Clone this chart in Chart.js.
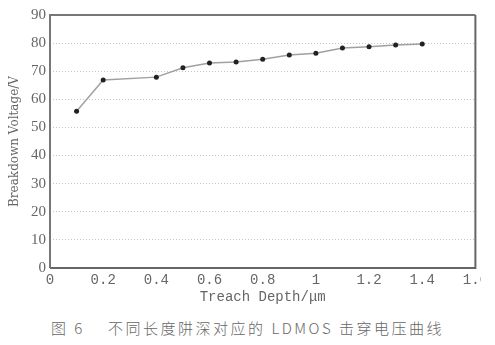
<!DOCTYPE html>
<html>
<head>
<meta charset="utf-8">
<script src="https://cdn.jsdelivr.net/npm/chart.js@4/dist/chart.umd.min.js"></script>
<style>
  html, body { margin: 0; padding: 0; background: #fff; }
  #wrap { position: relative; width: 495px; height: 345px; overflow: hidden; }
  #clip { position: absolute; left: 0; top: 0; width: 481px; height: 306px; overflow: hidden; }
  #chartBox { position: absolute; left: 0; top: 0; width: 492px; height: 306px; }
  #caption {
    position: absolute; left: 0; top: 317px; width: 495px; text-align: center;
    font-family: "Noto Sans CJK SC", serif; font-size: 15px; font-weight: 300; color: #666; letter-spacing: 2.5px;
  }
</style>
</head>
<body>
<div id="wrap">
  <div id="clip"><div id="chartBox"><canvas id="chart"></canvas></div></div>
  <div id="caption">图 6&nbsp;&nbsp;&nbsp;&nbsp;不同长度阱深对应的 LDMOS 击穿电压曲线</div>
</div>
<script>
// trench depth (um) and breakdown voltage (V)
const depths = [0.1, 0.2, 0.4, 0.5, 0.6, 0.7, 0.8, 0.9, 1.0, 1.1, 1.2, 1.3, 1.4];
const voltages = [55.8, 66.9, 67.9, 71.2, 72.9, 73.3, 74.3, 75.8, 76.4, 78.3, 78.7, 79.3, 79.7];
const xTicks = [0, 0.2, 0.4, 0.6, 0.8, 1, 1.2, 1.4, 1.6];
const yTicks = [0, 10, 20, 30, 40, 50, 60, 70, 80, 90];

// box around the plot area
const frame = {
    id: 'frame',
    afterDraw(chart) {
        const a = chart.chartArea;
        const ctx = chart.ctx;
        ctx.save();
        ctx.strokeStyle = '#777';
        ctx.lineWidth = 2;
        ctx.beginPath();
        ctx.moveTo(a.left, a.bottom);
        ctx.lineTo(a.left, a.top);
        ctx.lineTo(a.right, a.top);
        ctx.stroke();
        ctx.strokeStyle = '#666';
        ctx.beginPath();
        ctx.moveTo(a.right, a.top);
        ctx.lineTo(a.right, a.bottom);
        ctx.lineTo(a.left, a.bottom);
        ctx.stroke();
        ctx.restore();
    }
};

const ctx = document.getElementById('chart').getContext('2d');
new Chart(ctx, {
    type: 'scatter',
    data: {
        datasets: [{
            data: depths.map((d, i) => ({ x: d, y: voltages[i] })),
            showLine: true,
            borderColor: '#a0a0a0',
            borderWidth: 1.5,
            pointRadius: 2.5,
            pointBackgroundColor: '#222',
            pointBorderColor: '#222',
            pointBorderWidth: 0
        }]
    },
    options: {
        responsive: true,
        maintainAspectRatio: false,
        animation: false,
        layout: { padding: { top: 15, right: 0, bottom: 0, left: 8 } },
        plugins: { legend: { display: false }, tooltip: { enabled: false } },
        scales: {
            x: {
                type: 'linear',
                min: 0,
                max: 1.6,
                afterBuildTicks: s => { s.ticks = xTicks.map(v => ({ value: v })); },
                afterFit: s => { s.height = 38; },
                grid: { display: false, drawTicks: false },
                border: { display: false },
                ticks: {
                    color: '#666',
                    padding: 4,
                    maxRotation: 0,
                    font: { family: 'Liberation Mono', size: 14 },
                    callback: v => String(v)
                },
                title: {
                    display: true,
                    text: 'Treach Depth/\u03bcm',
                    color: '#666',
                    padding: { top: -5, bottom: 0 },
                    font: { family: 'Liberation Mono', size: 14 }
                }
            },
            y: {
                min: 0,
                max: 90,
                afterBuildTicks: s => { s.ticks = yTicks.map(v => ({ value: v })); },
                afterFit: s => { s.width = 42; },
                grid: {
                    color: c => (c.tick.value === 0 || c.tick.value === 90) ? 'rgba(0,0,0,0)' : '#c4c4c4',
                    lineWidth: 1,
                    drawTicks: false
                },
                border: { display: false, dash: [1, 2] },
                ticks: {
                    color: '#666',
                    padding: 4,
                    font: { family: 'Liberation Serif', size: 15 }
                },
                title: {
                    display: true,
                    text: 'Breakdown Voltage/V',
                    color: '#666',
                    padding: { top: 0, bottom: 0 },
                    font: { family: 'DejaVu Serif', size: 12 }
                }
            }
        }
    },
    plugins: [frame]
});
</script>
</body>
</html>
